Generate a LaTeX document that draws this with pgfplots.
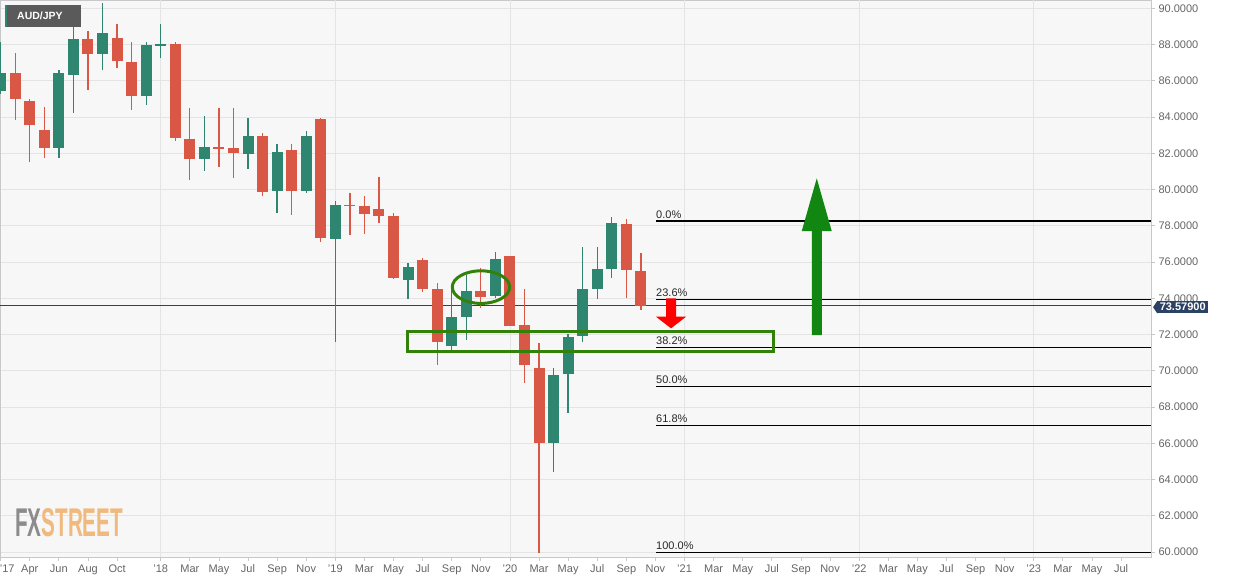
\documentclass[border=0pt]{standalone}
\usepackage{fontspec}
\setmainfont{Liberation Sans}
\usepackage{pgfplots}
\pgfplotsset{compat=1.18}
\usepackage{pgfplotstable}
\usepackage{graphicx}

\definecolor{cup}{RGB}{46,134,112}
\definecolor{cdn}{RGB}{217,87,69}
\definecolor{plotbg}{RGB}{247,247,247}
\definecolor{gridc}{RGB}{228,228,228}
\definecolor{axisc}{RGB}{200,200,200}
\definecolor{labc}{RGB}{100,100,100}
\definecolor{navy}{RGB}{44,66,100}
\definecolor{annog}{RGB}{50,130,10}
\definecolor{arrowg}{RGB}{17,135,17}
\definecolor{boxgrey}{RGB}{90,90,90}
\definecolor{fxgrey}{RGB}{140,140,140}
\definecolor{fxorange}{RGB}{240,185,125}
\definecolor{fibtext}{RGB}{40,40,40}

% monthly candles, m = months since Jan 2017
\pgfplotstableread{
m o h l c
1 85.45 88.16 85.25 86.45
5 82.29 86.60 81.77 86.41
6 86.30 89.45 84.21 88.32
8 87.48 90.31 86.60 88.62
11 85.16 88.16 84.67 87.96
12 87.96 89.12 87.24 88.02
15 81.70 84.08 81.00 82.35
18 81.94 83.93 81.15 82.97
20 79.92 82.50 78.69 82.09
22 79.94 83.21 79.83 82.94
24 77.29 79.39 71.61 79.15
29 75.01 75.93 73.94 75.74
32 71.39 74.46 71.02 72.95
33 72.95 75.28 71.70 74.42
35 74.13 76.57 74.00 76.17
39 66.00 70.14 64.43 69.77
40 69.80 72.06 67.66 71.88
41 71.91 76.81 71.60 74.50
42 74.52 76.85 73.94 75.62
43 75.64 78.47 75.10 78.14
}\up

\pgfplotstableread{
m o h l c
2 86.45 87.52 83.84 85.01
3 84.90 85.01 81.50 83.54
4 83.30 84.57 81.77 82.29
7 88.32 88.75 85.49 87.48
9 88.36 89.12 86.69 87.07
10 87.05 88.16 84.39 85.16
13 88.03 88.12 82.70 82.83
14 82.78 84.53 80.53 81.70
16 82.35 84.48 81.24 82.27
17 82.29 84.53 80.62 82.02
19 82.97 83.10 79.65 79.85
21 82.20 82.50 78.59 79.94
23 83.89 83.95 77.13 77.31
25 79.15 79.84 77.48 79.10
26 79.07 79.65 77.53 78.67
27 78.92 80.71 78.14 78.56
28 78.54 78.69 75.08 75.14
30 76.11 76.20 74.37 74.50
31 74.50 74.87 70.32 71.57
34 74.42 75.65 73.47 74.09
36 76.33 76.35 72.45 72.49
37 72.53 74.50 69.34 70.32
38 70.14 71.52 59.93 66.00
44 78.10 78.36 74.00 75.56
45 75.53 76.52 73.38 73.58
}\down

\begin{document}
\begin{tikzpicture}
\begin{axis}[
  at={(0,0)}, anchor=north west,
  scale only axis, width=1151pt, height=557pt,
  xmin=0.955, xmax=80.06, ymin=59.73, ymax=90.46,
  axis background/.style={fill=plotbg},
  axis line style={draw=axisc, line width=0.8pt},
  /pgf/number format/assume math mode=true,
  ytick={60,62,...,90},
  yticklabel pos=right, ytick pos=right, xtick pos=left,
  yticklabel style={/pgf/number format/.cd, fixed, fixed zerofill, precision=4, 1000 sep={}},
  ticklabel style={font=\fontsize{11}{13}\selectfont, text=labc},
  tick style={draw=axisc, line width=0.8pt},
  tick align=outside, major tick length=4pt,
  xtick={1,3,5,7,9,12,14,16,18,20,22,24,26,28,30,32,34,36,38,40,42,44,46,48,50,52,54,56,58,60,62,64,66,68,70,72,74,76,78},
  xticklabels={{\hspace*{13pt}'17},Apr,Jun,Aug,Oct,'18,Mar,May,Jul,Sep,Nov,'19,Mar,May,Jul,Sep,Nov,'20,Mar,May,Jul,Sep,Nov,'21,Mar,May,Jul,Sep,Nov,'22,Mar,May,Jul,Sep,Nov,'23,Mar,May,Jul},
  ymajorgrids,
  grid style={draw=gridc, line width=0.8pt},
  extra x ticks={12,24,36,48,60,72},
  extra x tick labels={},
  extra x tick style={xmajorgrids=true, major tick length=0pt},
]
% current price line
\addplot[navy, line width=1pt, forget plot] coordinates {(0.955,73.579) (80.06,73.579)};

% wicks
\addplot[draw=none, forget plot, error bars/.cd, y dir=both, y explicit, error mark=none,
  error bar style={draw=cup, line width=1.3pt}]
  table[x=m, y expr={(\thisrow{h}+\thisrow{l})/2}, y error expr={(\thisrow{h}-\thisrow{l})/2}] {\up};
\addplot[draw=none, forget plot, error bars/.cd, y dir=both, y explicit, error mark=none,
  error bar style={draw=cdn, line width=1.3pt}]
  table[x=m, y expr={(\thisrow{h}+\thisrow{l})/2}, y error expr={(\thisrow{h}-\thisrow{l})/2}] {\down};
% bodies
\addplot[draw=none, forget plot, error bars/.cd, y dir=both, y explicit, error mark=none,
  error bar style={draw=cup, line width=11pt}]
  table[x=m, y expr={(\thisrow{o}+\thisrow{c})/2}, y error expr={(\thisrow{c}-\thisrow{o})/2}] {\up};
\addplot[draw=none, forget plot, error bars/.cd, y dir=both, y explicit, error mark=none,
  error bar style={draw=cdn, line width=11pt}]
  table[x=m, y expr={(\thisrow{o}+\thisrow{c})/2}, y error expr={(\thisrow{o}-\thisrow{c})/2}] {\down};

% Fibonacci levels
\addplot[black, line width=1.1pt, forget plot] coordinates {(46.04,78.27) (80.06,78.27)};
\addplot[black, line width=1.1pt, forget plot] coordinates {(46.04,73.95) (80.06,73.95)};
\addplot[black, line width=1.1pt, forget plot] coordinates {(46.04,71.30) (80.06,71.30)};
\addplot[black, line width=1.1pt, forget plot] coordinates {(46.04,69.14) (80.06,69.14)};
\addplot[black, line width=1.1pt, forget plot] coordinates {(46.04,66.99) (80.06,66.99)};
\addplot[black, line width=1.1pt, forget plot] coordinates {(46.04,60.00) (80.06,60.00)};

\path[font=\fontsize{11}{13}\selectfont, text=fibtext]
  (axis cs:46.04,78.27) node[anchor=south west, inner sep=0pt, yshift=2.5pt] {0.0\%}
  (axis cs:46.04,73.95) node[anchor=south west, inner sep=0pt, yshift=2.5pt] {23.6\%}
  (axis cs:46.04,71.30) node[anchor=south west, inner sep=0pt, yshift=2.5pt] {38.2\%}
  (axis cs:46.04,69.14) node[anchor=south west, inner sep=0pt, yshift=2.5pt] {50.0\%}
  (axis cs:46.04,66.99) node[anchor=south west, inner sep=0pt, yshift=2.5pt] {61.8\%}
  (axis cs:46.04,60.00) node[anchor=south west, inner sep=0pt, yshift=2.5pt] {100.0\%};

% annotations
\draw[annog, line width=3pt] (axis cs:28.95,71.09) rectangle (axis cs:54.10,72.16);
\draw[annog, line width=3pt] (axis cs:34.01,74.62) ellipse [x radius=28.7pt, y radius=16.3pt];
\fill[red] (axis cs:46.729,74.00) -- (axis cs:46.729,72.985) -- (axis cs:46.041,72.985)
  -- (axis cs:47.072,72.345) -- (axis cs:48.103,72.985) -- (axis cs:47.416,72.985)
  -- (axis cs:47.416,74.00) -- cycle;
\fill[arrowg] (axis cs:56.742,71.975) -- (axis cs:56.742,77.71) -- (axis cs:56.055,77.71)
  -- (axis cs:57.086,80.62) -- (axis cs:58.117,77.71) -- (axis cs:57.43,77.71)
  -- (axis cs:57.43,71.975) -- cycle;

\coordinate (tl) at (rel axis cs:0,1);
\coordinate (pl) at (axis cs:80.06,73.579);
\end{axis}

% AUD/JPY tag
\fill[boxgrey] ([shift={(5pt,-5pt)}]tl) rectangle ([shift={(81pt,-27pt)}]tl);
\fill[cup] ([shift={(5pt,-5pt)}]tl) rectangle ([shift={(7.3pt,-27pt)}]tl);
\node[text=white, font=\bfseries\fontsize{10.5}{12}\selectfont, inner sep=0pt] at ([shift={(40pt,-16pt)}]tl) {AUD/JPY};

% FXSTREET logo
\node[anchor=south west, inner sep=0pt] at ([shift={(15pt,-537pt)}]tl)
  {\resizebox{108pt}{28pt}{\bfseries\color{fxgrey}FX\color{fxorange}STREET}};

% price tag
\node[fill=navy, text=white, font=\bfseries\fontsize{11}{12}\selectfont, inner xsep=2.5pt, inner ysep=2.3pt, anchor=west] (pb) at ([xshift=6pt,yshift=-1.2pt]pl) {73.57900};
\fill[navy] ([xshift=0.3pt]pb.north west) -- ([xshift=-4pt]pb.west) -- ([xshift=0.3pt]pb.south west) -- cycle;

\pgfresetboundingbox
\path[use as bounding box] (tl) rectangle ([shift={(1235pt,-581pt)}]tl);
\end{tikzpicture}
\end{document}
